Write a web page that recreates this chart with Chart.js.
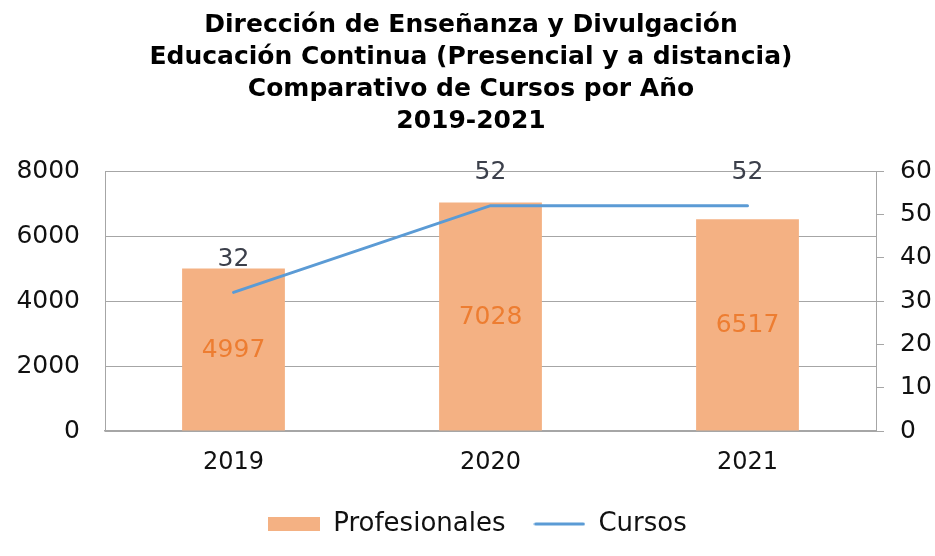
<!DOCTYPE html>
<html><head><meta charset="utf-8">
<script src="https://cdn.jsdelivr.net/npm/chart.js@4"></script>
<style>html,body{margin:0;padding:0;background:#fff}#wrap{width:935px;height:556px;position:relative}</style>
</head><body><div id="wrap"><canvas id="c"></canvas></div>
<script>
const categories = ['2019', '2020', '2021'];
const profesionales = [4997, 7028, 6517];
const cursos = [32, 52, 52];
const seriesNames = ['Profesionales', 'Cursos'];
const leftTickValues = [0, 2000, 4000, 6000, 8000];
const rightTickValues = [0, 10, 20, 30, 40, 50, 60];
const titleLines = [
  'Dirección de Enseñanza y Divulgación',
  'Educación Continua (Presencial y a distancia)',
  'Comparativo de Cursos por Año',
  '2019-2021'
];

const FONT = "'DejaVu Sans', sans-serif";
const BAR_COLOR = '#F4B183';
const LINE_COLOR = '#5B9BD5';
const GRID = '#A6A6A6';

function makeSwatch(kind, color) {
  const cv = document.createElement('canvas');
  cv.width = 52; cv.height = 14;
  const c = cv.getContext('2d');
  if (kind === 'rect') {
    c.fillStyle = color;
    c.fillRect(0, 0, 52, 14);
  } else {
    c.strokeStyle = color;
    c.lineWidth = 3;
    c.lineCap = 'round';
    c.beginPath();
    c.moveTo(2, 7); c.lineTo(50, 7);
    c.stroke();
  }
  return cv;
}
const barSwatch = makeSwatch('rect', BAR_COLOR);
const lineSwatch = makeSwatch('line', LINE_COLOR);

const titlePlugin = {
  id: 'titleLines',
  afterLayout(chart) {
    if (chart.legend) { chart.legend.left += 10; chart.legend.right += 10; }
  },
  afterDraw(chart) {
    const ctx = chart.ctx;
    ctx.save();
    ctx.font = 'bold 25px ' + FONT;
    ctx.fillStyle = '#000';
    ctx.textAlign = 'center';
    ctx.textBaseline = 'middle';
    titleLines.forEach((t, i) => ctx.fillText(t, 471, 25 + i * 32));
    ctx.restore();
  }
};

const labelPlugin = {
  id: 'valueLabels',
  afterDatasetsDraw(chart) {
    const ctx = chart.ctx;
    ctx.save();
    ctx.font = '25px ' + FONT;
    ctx.textAlign = 'center';
    ctx.textBaseline = 'middle';
    chart.getDatasetMeta(0).data.forEach((el, i) => {
      ctx.fillStyle = '#ED7D31';
      ctx.fillText(String(profesionales[i]), el.x, (el.y + el.base) / 2 + 1);
    });
    chart.getDatasetMeta(1).data.forEach((el, i) => {
      ctx.fillStyle = '#3B3F4A';
      ctx.fillText(String(cursos[i]), el.x, el.y - 33);
    });
    ctx.restore();
  }
};

new Chart(document.getElementById('c'), {
  type: 'bar',
  data: {
    labels: categories,
    datasets: [
      {
        label: seriesNames[0],
        data: profesionales,
        backgroundColor: BAR_COLOR,
        yAxisID: 'y',
        order: 2,
        categoryPercentage: 1,
        barPercentage: 0.4
      },
      {
        type: 'line',
        label: seriesNames[1],
        data: cursos,
        borderColor: LINE_COLOR,
        backgroundColor: LINE_COLOR,
        borderWidth: 3,
        borderCapStyle: 'round',
        pointRadius: 0,
        tension: 0,
        yAxisID: 'y1',
        order: 1
      }
    ]
  },
  options: {
    responsive: true,
    maintainAspectRatio: false,
    animation: false,
    layout: { padding: { top: 171, left: 0, right: 0, bottom: 9 } },
    plugins: {
      title: { display: false },
      tooltip: { enabled: false },
      legend: {
        display: true,
        position: 'bottom',
        labels: {
          font: { family: FONT, size: 26 },
          color: '#111',
          padding: 28,
          usePointStyle: true,
          pointStyleWidth: 52,
          boxHeight: 14,
          generateLabels() {
            return [
              { text: seriesNames[0], fillStyle: BAR_COLOR, strokeStyle: BAR_COLOR, lineWidth: 0, pointStyle: barSwatch, datasetIndex: 0, fontColor: '#111' },
              { text: seriesNames[1], fillStyle: LINE_COLOR, strokeStyle: LINE_COLOR, lineWidth: 0, pointStyle: lineSwatch, datasetIndex: 1, fontColor: '#111' }
            ];
          }
        }
      }
    },
    scales: {
      x: {
        grid: { display: false, drawTicks: false },
        border: { display: true, color: GRID, width: 1.5 },
        ticks: { font: { family: FONT, size: 24 }, color: '#111', padding: 17 },
        afterFit(s) { s.height = 52; }
      },
      y: {
        position: 'left',
        min: 0, max: 8000,
        afterBuildTicks(s) { s.ticks = leftTickValues.map(v => ({ value: v })); },
        grid: { color: GRID, drawTicks: false },
        border: { display: true, color: GRID },
        ticks: { font: { family: FONT, size: 25 }, color: '#111', padding: 25, callback: v => String(v) },
        afterFit(s) { s.width = 105; }
      },
      y1: {
        position: 'right',
        min: 0, max: 60,
        afterBuildTicks(s) { s.ticks = rightTickValues.map(v => ({ value: v })); },
        grid: { drawOnChartArea: false, drawTicks: true, tickLength: 8, color: GRID },
        border: { display: true, color: GRID },
        ticks: { font: { family: FONT, size: 25 }, color: '#111', padding: 16, callback: v => String(v) },
        afterFit(s) { s.width = 59; }
      }
    }
  },
  plugins: [titlePlugin, labelPlugin]
});
</script>
</body></html>
